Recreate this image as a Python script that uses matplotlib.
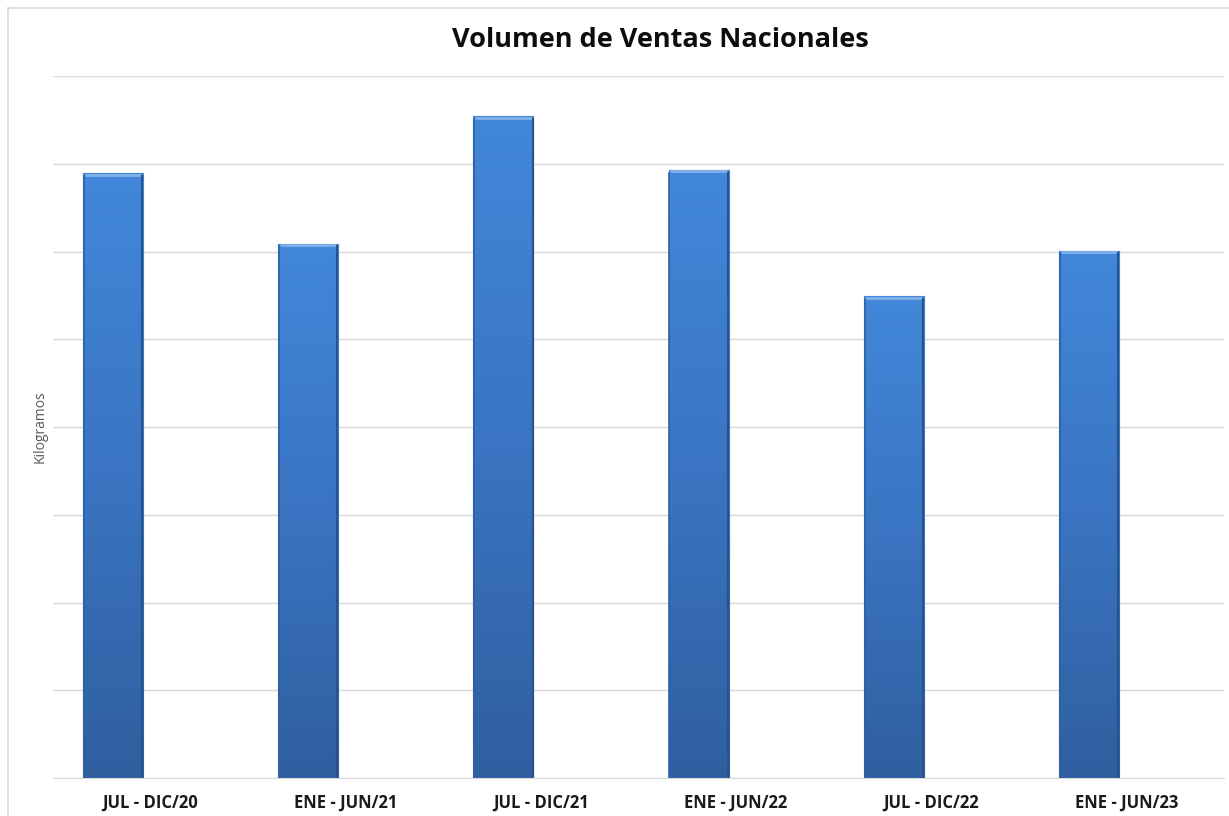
import matplotlib
matplotlib.use("Agg")
import matplotlib.pyplot as plt
import numpy as np
from matplotlib.lines import Line2D
from matplotlib.colors import LinearSegmentedColormap

categories = ["JUL - DIC/20", "ENE - JUN/21", "JUL - DIC/21", "ENE - JUN/22", "JUL - DIC/22", "ENE - JUN/23"]
values = [6.89, 6.09, 7.54, 6.93, 5.49, 6.01]
title = "Volumen de Ventas Nacionales"
ylabel = "Kilogramos"

W, H = 1229, 816
fig = plt.figure(figsize=(W / 100, H / 100), dpi=100)
ax = fig.add_axes([53 / W, 1 - 778 / H, (1224 - 53) / W, (778 - 76) / H])

x = np.arange(len(categories))
offset = -37.5 / 195
width = 60 / 195
bars = ax.bar(x + offset, values, width=width, color="#3b7bcc", edgecolor="#2d5f9e", linewidth=0.8, zorder=2)

grad = np.linspace(0, 1, 256).reshape(-1, 1)
cmap = LinearSegmentedColormap.from_list("b", ["#2f5f9f", "#3a74c2", "#4287d9"])
for b in bars:
    x0, y0 = b.get_x(), b.get_y()
    w, h = b.get_width(), b.get_height()
    im = ax.imshow(grad, extent=[x0, x0 + w, y0, y0 + h], origin="lower", aspect="auto", cmap=cmap, zorder=2.1)
    im.set_clip_path(b)
    ax.plot([x0 + w * 0.03, x0 + w * 0.97], [y0 + h - 0.015, y0 + h - 0.015], color="#7fb0ea", lw=2.0, zorder=2.2, solid_capstyle="butt")
    ax.plot([x0 + w * 0.985, x0 + w * 0.985], [y0, y0 + h - 0.03], color="#27528a", lw=1.5, zorder=2.2)
    ax.plot([x0 + w * 0.015, x0 + w * 0.015], [y0, y0 + h - 0.03], color="#2e61a3", lw=1.2, zorder=2.2)

ax.set_xlim(-0.5, len(categories) - 0.5)
ax.set_ylim(0, 8)
ax.set_yticks(np.arange(0, 9, 1))
ax.set_yticklabels([])
ax.tick_params(axis="y", length=0)
ax.grid(axis="y", color="#d9d9d9", lw=1.0, zorder=0)
ax.set_axisbelow(True)
ax.set_xticks(x)
ax.set_xticklabels(categories, fontsize=12, fontweight="bold", family=["Open Sans", "DejaVu Sans"], color="#1a1a1a")
ax.tick_params(axis="x", length=0, pad=11)
for s in ["top", "right", "left"]:
    ax.spines[s].set_visible(False)
ax.spines["bottom"].set_color("#d9d9d9")

fig.text(40 / W, 1 - 427 / H, ylabel, rotation=90, ha="center", va="center", fontsize=10, color="#595959", family="Open Sans")
fig.text(660 / W, 1 - 40 / H, title, ha="center", va="center", fontsize=19.5, fontweight="bold", family="Open Sans", color="#0d0d0d")

fig.add_artist(Line2D([8 / W, 1.0], [1 - 8 / H, 1 - 8 / H], transform=fig.transFigure, color="#d9d9d9", lw=1.2))
fig.add_artist(Line2D([8 / W, 8 / W], [0, 1 - 8 / H], transform=fig.transFigure, color="#d9d9d9", lw=1.2))

fig.savefig("out.png", dpi=100)
